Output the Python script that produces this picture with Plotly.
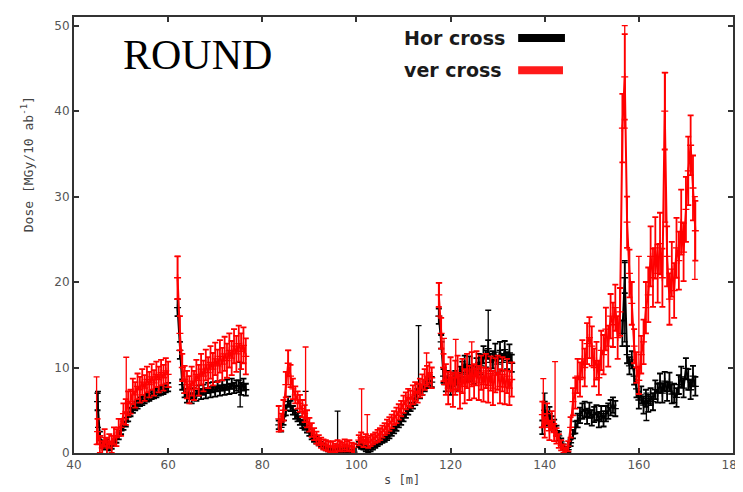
import numpy as np
import plotly.graph_objects as go

STEP = 0.5

# ---- Hor cross (black): segment start positions (s [m]) and dose values ----
hor_starts = [45.0, 62.0, 83.5, 100.5, 117.5, 139.5, 156.5]
hor_vals = [
    [6.0, 2.0, 1.0, 0.8, 1.2, 0.6, 0.9, 1.2, 1.6, 2.0, 2.6, 3.2, 3.6, 4.2, 4.8, 5.2,
     5.5, 5.7, 6.0, 6.1, 6.3, 6.5, 6.6, 6.8, 6.9, 7.0, 7.2, 7.3, 7.4, 7.6, 7.7],
    [17.0, 12.0, 8.0, 7.0, 6.5, 6.9, 6.4, 7.0, 6.7, 7.3, 6.9, 7.4, 7.0, 7.6, 7.1,
     7.7, 7.2, 7.8, 7.3, 7.9, 7.4, 8.0, 7.5, 8.1, 7.6, 7.9, 7.8, 7.5, 8.0, 7.4],
    [3.3, 3.0, 3.8, 5.0, 6.0, 5.5, 5.0, 4.5, 4.2, 3.8, 3.4, 3.2, 2.8, 2.4, 2.0, 1.7,
     1.5, 1.3, 1.0, 0.8, 0.6, 0.5, 0.4, 0.3, 0.3, 0.6, 0.3, 0.3, 0.4, 0.3, 0.2, 0.2, 0.1],
    [1.0, 0.8, 0.7, 0.5, 0.4, 0.5, 0.7, 0.9, 1.1, 1.3, 1.5, 1.7, 1.9, 2.1, 2.4, 2.7,
     3.0, 3.4, 3.8, 4.2, 4.6, 5.0, 5.4, 5.8, 6.2, 7.5, 7.0, 7.4, 7.8, 8.2, 8.5, 8.3],
    [16.0, 13.0, 9.0, 8.0, 8.8, 7.6, 8.6, 8.8, 8.0, 9.2, 9.8, 10.4, 9.2, 10.3, 9.3,
     9.0, 10.1, 10.6, 10.2, 11.5, 11.0, 12.2, 10.6, 10.9, 11.8, 10.4, 12.0, 10.6, 12.1,
     10.8, 11.7, 10.5],
    [3.0, 5.0, 4.0, 4.6, 3.6, 3.2, 2.6, 2.0, 1.3, 0.7, 0.3, 0.4, 1.2, 2.2, 3.0, 3.8,
     4.4, 4.9, 5.1, 4.3, 5.0, 4.1, 4.5, 4.7, 3.9, 4.6, 4.0, 4.6, 4.9, 5.3, 5.6, 5.2],
    [14.0, 20.5, 11.5, 10.2, 10.9, 9.0, 7.5, 6.2, 6.8, 5.6, 6.4, 5.8, 6.6, 6.0, 7.4,
     7.0, 8.2, 7.0, 8.4, 7.2, 8.3, 6.9, 7.0, 6.5, 8.0, 8.9, 7.6, 9.9, 8.6, 7.4, 9.0, 7.8],
]
hor_errs = [
    [1.0, 0.5, 0.4, 0.4, 0.4, 0.3, 0.4, 0.4, 0.4, 0.4, 0.4, 0.5, 0.5, 0.5, 0.5, 0.5,
     0.5, 0.5, 0.5, 0.5, 0.5, 0.5, 0.5, 0.5, 0.5, 0.5, 0.5, 0.5, 0.5, 0.5, 0.5],
    [1.0, 1.0, 0.6, 0.5, 0.6, 0.6, 0.6, 0.6, 0.6, 0.6, 0.6, 0.6, 0.6, 0.6, 0.6,
     0.6, 0.6, 0.6, 0.6, 0.6, 0.6, 0.6, 0.6, 0.6, 0.6, 0.6, 0.7, 0.7, 0.7, 0.7],
    [0.5, 0.5, 0.5, 0.6, 0.6, 0.6, 0.5, 0.5, 0.5, 0.5, 0.5, 0.5, 0.4, 0.4, 0.4, 0.4,
     0.4, 0.4, 0.3, 0.3, 0.3, 0.3, 0.3, 0.3, 0.3, 0.3, 0.3, 0.3, 0.3, 0.3, 0.2, 0.2, 0.2],
    [0.3, 0.3, 0.3, 0.3, 0.3, 0.3, 0.3, 0.3, 0.3, 0.3, 0.3, 0.4, 0.4, 0.4, 0.4, 0.4,
     0.4, 0.4, 0.5, 0.5, 0.5, 0.5, 0.5, 0.6, 0.6, 0.6, 0.6, 0.6, 0.6, 0.6, 0.6, 0.6],
    [0.9, 0.8, 0.8, 0.8, 0.8, 0.8, 0.8, 0.8, 0.8, 0.9, 0.9, 1.0, 0.9, 1.0, 0.9,
     0.9, 1.0, 1.0, 1.0, 1.0, 1.0, 1.0, 1.0, 1.0, 1.0, 1.0, 1.0, 1.0, 1.0, 1.0, 1.0, 1.0],
    [0.8, 1.0, 0.8, 0.8, 0.7, 0.7, 0.6, 0.5, 0.4, 0.3, 0.3, 0.3, 0.4, 0.5, 0.7, 0.8,
     0.9, 0.9, 0.9, 0.9, 0.9, 0.9, 0.9, 0.9, 0.9, 0.9, 0.9, 0.9, 0.9, 0.9, 0.9, 0.9],
    [1.5, 1.8, 1.0, 1.0, 1.0, 1.0, 1.0, 1.0, 1.0, 1.0, 1.0, 1.0, 1.0, 1.0, 1.1,
     1.1, 1.1, 1.1, 1.1, 1.1, 1.1, 1.1, 1.1, 1.1, 1.1, 1.2, 1.1, 1.2, 1.2, 1.1, 1.2, 1.1],
]
# isolated tall error bars (s, low, high)
hor_spike_s = [45.1, 75.3, 89.2, 96.0, 113.2, 128.0, 140.0, 157.0, 161.6]
hor_spike_lo = [3.0, 5.4, 3.0, 0.3, 7.5, 11.0, 3.0, 13.0, 3.8]
hor_spike_hi = [7.2, 10.6, 7.2, 4.9, 14.9, 16.7, 7.0, 22.5, 7.0]

# ---- ver cross (red) ----
ver_starts = [45.0, 62.0, 83.5, 100.5, 117.5, 139.5]
ver_vals = [
    [2.5, 1.0, 0.6, 1.8, 0.8, 1.4, 1.0, 2.0, 1.8, 3.0, 3.0, 4.6, 4.8, 5.8, 6.0, 7.2,
     6.8, 7.8, 7.4, 8.3, 7.6, 8.6, 8.0, 8.9, 8.2, 9.2, 8.6, 9.4, 8.8, 9.6, 9.2],
    [20.5, 14.0, 10.0, 8.6, 8.0, 7.4, 8.4, 7.9, 9.2, 8.5, 9.8, 9.0, 10.3, 9.4, 10.6,
     9.8, 11.0, 10.2, 11.3, 10.4, 11.6, 10.8, 12.0, 11.1, 12.5, 11.6, 12.8, 11.9, 12.6, 11.3],
    [4.0, 3.6, 5.0, 8.0, 10.5, 9.0, 7.5, 6.8, 6.2, 5.8, 5.2, 4.6, 4.0, 3.3, 2.7, 2.2,
     1.8, 1.5, 1.2, 1.0, 0.9, 0.8, 0.7, 0.8, 0.6, 0.9, 0.8, 0.7, 1.0, 0.8, 0.9, 0.7, 0.6],
    [1.5, 1.8, 1.3, 1.6, 1.2, 1.4, 1.6, 1.8, 2.0, 2.2, 2.5, 2.8, 3.1, 3.4, 3.7, 4.1,
     4.4, 4.8, 5.2, 5.7, 6.1, 6.5, 6.3, 6.8, 7.2, 7.0, 7.6, 8.0, 8.6, 9.0, 9.4, 8.8],
    [18.5, 14.0, 10.0, 8.6, 7.6, 9.2, 7.4, 8.8, 9.4, 7.2, 9.0, 7.8, 9.6, 8.2, 9.8,
     8.4, 9.9, 8.2, 9.4, 8.0, 9.6, 7.9, 9.3, 7.6, 9.1, 9.4, 7.8, 9.2, 7.7, 9.0, 7.6, 8.6],
    [4.5, 3.0, 4.6, 2.6, 3.8, 2.4, 2.0, 1.4, 0.9, 0.5, 0.2, 0.8, 3.0, 6.0, 7.0, 9.0,
     8.6, 11.0, 10.0, 12.8, 13.5, 12.5, 10.0, 10.8, 8.8, 12.0, 11.5, 14.5, 12.5, 16.0,
     15.0, 17.0, 13.5, 16.5, 38.0, 44.0, 27.0, 21.0, 17.5, 12.5, 10.0, 8.5, 11.5, 13.0,
     17.0, 18.5, 23.0, 20.5, 24.0, 21.0, 24.5, 20.5, 40.0, 23.0, 18.0, 21.5, 19.0, 24.0,
     22.5, 27.0, 23.5, 28.5, 33.0, 36.0, 31.0, 26.0],
]
ver_errs = [
    [1.5, 1.0, 0.8, 1.0, 1.0, 0.8, 1.0, 1.0, 1.0, 1.0, 1.0, 1.2, 1.5, 1.4, 1.4, 1.5,
     1.5, 1.5, 1.5, 1.5, 1.5, 1.5, 1.5, 1.5, 1.5, 1.5, 1.5, 1.5, 1.5, 1.5, 1.5],
    [2.5, 2.0, 1.6, 1.6, 1.6, 1.6, 1.7, 1.7, 1.7, 1.8, 1.8, 1.8, 1.8, 1.8, 1.9,
     1.9, 1.9, 1.9, 1.9, 1.9, 2.0, 2.0, 2.0, 2.0, 2.0, 2.1, 2.1, 2.1, 2.1, 2.1],
    [1.5, 1.0, 1.2, 1.5, 1.5, 1.3, 1.2, 1.0, 1.0, 1.0, 1.0, 1.0, 1.0, 0.8, 0.8, 0.7,
     0.7, 0.6, 0.6, 0.6, 0.6, 0.6, 0.6, 0.6, 0.5, 0.6, 0.6, 0.5, 0.6, 0.6, 0.6, 0.5, 0.5],
    [0.6, 0.6, 0.6, 0.6, 0.6, 0.6, 0.6, 0.6, 0.7, 0.7, 0.7, 0.7, 0.8, 0.8, 0.8, 0.8,
     0.9, 0.9, 0.9, 1.0, 1.0, 1.0, 1.0, 1.1, 1.1, 1.1, 1.1, 1.2, 1.2, 1.2, 1.2, 1.2],
    [1.4, 1.8, 1.6, 1.8, 1.9, 2.0, 2.0, 2.0, 2.0, 2.0, 2.0, 2.0, 2.0, 2.0, 2.0,
     2.0, 2.0, 2.0, 2.0, 2.0, 2.0, 2.0, 2.0, 2.0, 2.0, 2.0, 2.0, 2.0, 2.0, 2.0, 2.0, 2.0],
    [1.5, 1.2, 1.2, 1.1, 1.1, 1.0, 0.9, 0.8, 0.6, 0.5, 0.4, 0.6, 1.2, 1.6, 1.8, 2.0,
     2.0, 2.2, 2.2, 2.4, 2.4, 2.3, 2.2, 2.2, 2.0, 2.3, 2.3, 2.5, 2.4, 2.6,
     2.6, 2.7, 2.5, 2.8, 4.0, 5.0, 3.0, 2.8, 2.5, 2.0, 1.8, 1.6, 2.2, 2.6,
     3.0, 3.2, 3.5, 3.4, 3.6, 3.4, 3.6, 3.4, 4.5, 3.5, 3.0, 3.2, 3.2, 3.5,
     3.4, 3.8, 3.4, 3.8, 4.0, 3.5, 3.8, 3.5],
]
ver_spike_s = [44.8, 51.1, 62.0, 85.5, 89.2, 101.1, 102.3, 114.9, 117.6, 118.6,
               121.1, 124.5, 139.7, 142.2, 157.0, 160.0, 165.6, 171.9]
ver_spike_lo = [1.0, 4.0, 18.0, 8.0, 4.0, 1.5, 1.3, 8.0, 16.0, 8.0,
                7.5, 8.0, 3.0, 2.5, 38.0, 8.5, 27.0, 20.3]
ver_spike_hi = [8.9, 11.2, 23.0, 12.0, 12.4, 7.5, 4.5, 11.7, 19.9, 13.4,
                13.3, 13.0, 8.7, 10.7, 50.0, 23.0, 44.5, 30.0]

x_ticks = [40, 60, 80, 100, 120, 140, 160, 180]
y_ticks = [0, 10, 20, 30, 40, 50]


def assemble(starts, vals, errs):
    xs, ys, es = [], [], []
    for s0, v, e in zip(starts, vals, errs):
        xs += list(s0 + STEP * np.arange(len(v))) + [None]
        ys += list(v) + [None]
        es += list(e) + [None]
    return xs, ys, es


fig = go.Figure()


def add_series(starts, vals, errs, sp_s, sp_lo, sp_hi, color):
    xs, ys, es = assemble(starts, vals, errs)
    fig.add_trace(go.Scatter(
        x=xs, y=ys, mode="lines+markers",
        line=dict(color=color, width=2),
        marker=dict(symbol="cross-thin", size=5, line=dict(color=color, width=1.3)),
        error_y=dict(type="data", array=es, color=color, thickness=1.8, width=3),
        showlegend=False, hoverinfo="skip", connectgaps=False))
    lo = np.array(sp_lo)
    hi = np.array(sp_hi)
    fig.add_trace(go.Scatter(
        x=sp_s, y=sp_lo, mode="markers",
        marker=dict(size=1, color=color),
        error_y=dict(type="data", symmetric=False, array=list(hi - lo),
                     arrayminus=[0] * len(sp_s), color=color, thickness=1.3, width=3),
        showlegend=False, hoverinfo="skip"))


add_series(hor_starts, hor_vals, hor_errs, hor_spike_s, hor_spike_lo, hor_spike_hi, "#000000")
add_series(ver_starts, ver_vals, ver_errs, ver_spike_s, ver_spike_lo, ver_spike_hi, "#ff0000")

axis_common = dict(
    showline=True, linecolor="#333333", linewidth=2, mirror="ticks",
    ticks="inside", ticklen=5, tickwidth=2, tickcolor="#333333",
    showgrid=False, zeroline=False,
    tickfont=dict(family="DejaVu Sans", size=12, color="#555555"),
)

fig.update_layout(
    width=743, height=492,
    margin=dict(l=66, r=13, t=7, b=47),
    paper_bgcolor="white", plot_bgcolor="white",
    xaxis=dict(range=[40, 180], tickvals=x_ticks, **axis_common),
    yaxis=dict(range=[0, 51], tickvals=y_ticks, **axis_common),
    showlegend=False,
)

anns = [
    dict(text="Dose [MGy/10 ab<sup>-1</sup>]", textangle=-90, xref="paper", yref="paper",
         x=-0.07, y=0.662, xanchor="center", yanchor="middle", showarrow=False,
         font=dict(family="DejaVu Sans Mono", size=13, color="#444444")),
    dict(text="s [m]", xref="paper", yref="paper", x=0.497, y=-0.061,
         xanchor="center", yanchor="middle", showarrow=False,
         font=dict(family="DejaVu Sans Mono", size=12, color="#444444")),
    dict(text="ROUND", xref="paper", yref="paper", x=0.072, y=0.913,
         xanchor="left", yanchor="middle", showarrow=False,
         font=dict(family="Liberation Serif", size=42, color="#000000")),
    dict(text="<b>Hor cross</b>", xref="paper", yref="paper", x=0.497, y=0.952,
         xanchor="left", yanchor="middle", showarrow=False,
         font=dict(family="DejaVu Sans", size=19, color="#1a1a1a")),
    dict(text="<b>ver cross</b>", xref="paper", yref="paper", x=0.497, y=0.878,
         xanchor="left", yanchor="middle", showarrow=False,
         font=dict(family="DejaVu Sans", size=19, color="#1a1a1a")),
]
fig.update_layout(annotations=anns)

fig.add_shape(type="line", xref="paper", yref="paper", x0=0.674, x1=0.745,
              y0=0.952, y1=0.952, line=dict(color="#000000", width=8))
fig.add_shape(type="line", xref="paper", yref="paper", x0=0.674, x1=0.742,
              y0=0.878, y1=0.878, line=dict(color="#ff1a1a", width=8))

fig.write_html("out.html")
